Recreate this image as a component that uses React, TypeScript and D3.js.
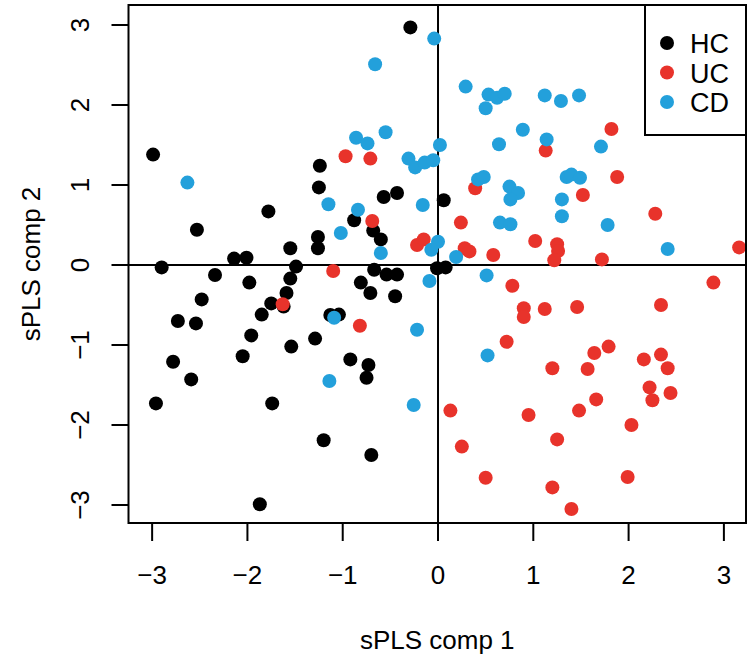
import React from 'react';
import * as d3 from 'd3';

// sample scores on the first two sPLS components
const hcX = [-0.29, -2.99, -1.24, 0.06, -1.25, -0.57, -0.43, -1.78, -0.88, -0.68, -0.60, -2.53, -1.26, -1.26, -1.55, -2.14, -2.01, -2.90, -1.49, -0.67, -0.54, -0.43, -0.01, 0.08, -2.34, -1.55, -1.98, -0.81, -0.71, -0.45, -2.48, -1.59, -1.75, -1.62, -1.85, -2.73, -2.54, -1.13, -1.04, -1.96, -1.29, -1.54, -2.05, -2.78, -2.59, -0.92, -0.73, -0.75, -2.96, -1.74, -1.20, -0.70, -1.87];
const hcY = [2.97, 1.38, 1.24, 0.81, 0.97, 0.85, 0.90, 0.67, 0.56, 0.43, 0.32, 0.44, 0.35, 0.21, 0.21, 0.08, 0.09, -0.03, -0.02, -0.06, -0.12, -0.12, -0.04, -0.03, -0.125, -0.17, -0.22, -0.22, -0.35, -0.39, -0.43, -0.35, -0.48, -0.52, -0.62, -0.70, -0.73, -0.625, -0.62, -0.88, -0.92, -1.02, -1.14, -1.21, -1.43, -1.18, -1.25, -1.41, -1.73, -1.73, -2.19, -2.375, -2.99];

const ucX = [-0.97, -0.71, 1.82, 1.13, 1.88, 0.39, 1.52, 2.28, 0.24, 1.02, 1.25, 1.26, 1.22, 0.28, 0.33, 0.58, 1.72, 3.16, 0.78, 2.89, 0.90, 0.90, 1.12, 1.46, 2.34, 0.72, 1.20, 1.64, 1.79, 1.57, 2.16, 2.34, 2.41, 2.22, 2.44, 2.25, 1.66, 1.48, 0.13, 0.95, 2.03, 1.25, 0.25, 0.50, 1.99, 1.20, 1.40, -0.69, -0.22, -0.15, -1.10, -1.63, -0.82];
const ucY = [1.36, 1.33, 1.70, 1.43, 1.10, 0.96, 0.875, 0.64, 0.53, 0.30, 0.26, 0.175, 0.06, 0.21, 0.17, 0.125, 0.07, 0.22, -0.26, -0.22, -0.54, -0.65, -0.55, -0.525, -0.50, -0.96, -1.29, -1.10, -1.02, -1.30, -1.18, -1.12, -1.29, -1.53, -1.60, -1.69, -1.68, -1.82, -1.82, -1.875, -2.00, -2.18, -2.27, -2.66, -2.65, -2.78, -3.05, 0.55, 0.25, 0.32, -0.075, -0.49, -0.76];

const cdX = [-0.04, -0.66, -0.55, -0.86, -0.74, -0.31, -0.24, -0.14, -0.05, 0.02, -2.63, 0.29, 0.53, 0.62, 0.70, 0.50, 1.12, 1.29, 1.48, 0.89, 1.14, 0.64, 1.71, 0.42, 0.48, 1.35, 1.40, 1.49, 0.75, 0.84, 0.76, 1.30, 1.30, 0.65, 0.76, 1.78, 2.41, 0.00, -0.07, 0.19, 0.51, -0.09, 0.52, -1.15, -0.84, -0.16, -1.02, -0.60, -1.09, -0.22, -1.14, -0.255];
const cdY = [2.83, 2.51, 1.66, 1.59, 1.52, 1.33, 1.22, 1.28, 1.31, 1.50, 1.03, 2.23, 2.13, 2.09, 2.14, 1.96, 2.12, 2.05, 2.12, 1.69, 1.57, 1.51, 1.48, 1.07, 1.10, 1.10, 1.13, 1.09, 0.98, 0.90, 0.82, 0.82, 0.61, 0.53, 0.51, 0.50, 0.20, 0.29, 0.19, 0.10, -0.13, -0.20, -1.13, 0.76, 0.69, 0.75, 0.40, 0.15, -0.66, -0.81, -1.45, -1.75];

const groups = ['HC', 'UC', 'CD'];
const colors = ['#000000', '#E8332B', '#23A0DB'];
const ticks = [-3, -2, -1, 0, 1, 2, 3];

const font = '"Liberation Sans", Arial, Helvetica, sans-serif';

export default function App() {
  const width = 750;
  const height = 658;
  const left = 128.5, right = 746, top = 5, bottom = 523;

  const x = d3.scaleLinear().domain([-3.248, 3.232]).range([left, right]);
  const y = d3.scaleLinear().domain([-3.225, 3.25]).range([bottom, top]);

  const series = [
    { name: groups[0], color: colors[0], xs: hcX, ys: hcY },
    { name: groups[1], color: colors[1], xs: ucX, ys: ucY },
    { name: groups[2], color: colors[2], xs: cdX, ys: cdY },
  ];

  const fmt = (v: number) => (v < 0 ? '\u2212' + Math.abs(v) : String(v));

  return (
    <svg width={width} height={height} style={{ position: 'absolute', left: 0, top: 0, background: '#fff' }} fontFamily={font}>
      {/* zero lines */}
      <line x1={x(0)} x2={x(0)} y1={top} y2={bottom} stroke="#000" strokeWidth={2} />
      <line x1={left} x2={right} y1={y(0)} y2={y(0)} stroke="#000" strokeWidth={2} />

      {series.map((s) =>
        s.xs.map((v, i) => (
          <circle key={s.name + i} cx={x(v)} cy={y(s.ys[i])} r={7} fill={s.color} />
        ))
      )}

      {/* plot box */}
      <rect x={left} y={top} width={right - left} height={bottom - top} fill="none" stroke="#000" strokeWidth={2} />

      {/* x axis */}
      {ticks.map((t) => (
        <g key={'x' + t}>
          <line x1={x(t)} x2={x(t)} y1={bottom} y2={bottom + 18} stroke="#000" strokeWidth={2} />
          <text x={x(t)} y={584} fontSize={26} textAnchor="middle">{fmt(t)}</text>
        </g>
      ))}
      {/* y axis */}
      {ticks.map((t) => (
        <g key={'y' + t}>
          <line x1={left - 17} x2={left} y1={y(t)} y2={y(t)} stroke="#000" strokeWidth={2} />
          <text transform={`translate(89,${y(t)}) rotate(-90)`} fontSize={26} textAnchor="middle">{fmt(t)}</text>
        </g>
      ))}

      <text x={(left + right) / 2} y={649} fontSize={26} textAnchor="middle">sPLS comp 1</text>
      <text transform={`translate(40,${(top + bottom) / 2}) rotate(-90)`} fontSize={26} textAnchor="middle">sPLS comp 2</text>

      {/* legend */}
      <rect x={645} y={top} width={right - 645} height={130} fill="#fff" stroke="#000" strokeWidth={2} />
      {series.map((s, i) => (
        <g key={'lg' + s.name}>
          <circle cx={667} cy={43 + i * 29.5} r={7} fill={s.color} />
          <text x={690} y={43 + i * 29.5 + 10} fontSize={27}>{s.name}</text>
        </g>
      ))}
    </svg>
  );
}
